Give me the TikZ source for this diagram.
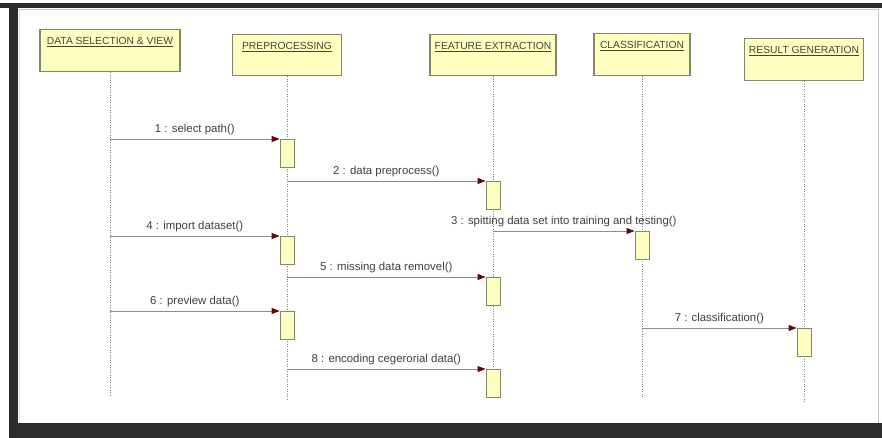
\documentclass[tikz,border=0pt]{standalone}
\usepackage{fontspec}
\setmainfont{Liberation Sans}
\usetikzlibrary{arrows.meta,positioning}
\definecolor{boxfill}{HTML}{FFFFC2}
\definecolor{boxline}{HTML}{85856A}
\definecolor{headtext}{HTML}{45452E}
\definecolor{msgline}{HTML}{8C8C8C}
\definecolor{tipred}{HTML}{5E0A0A}
\definecolor{framedark}{HTML}{2C2C2C}

\begin{document}
\begin{tikzpicture}[x=1pt,y=-1pt,
    head/.style={draw=boxline, fill=boxfill, line width=1.2pt, anchor=north, inner sep=0pt},
    headtxt/.style={text=headtext, font=\fontsize{10.3}{11}\selectfont, inner sep=0pt},
    act/.style={draw=boxline, fill=boxfill, line width=0.8pt, anchor=north, minimum width=14pt, minimum height=28pt, inner sep=0pt},
    life/.style={draw=gray, line width=0.8pt, dash pattern=on 1pt off 1.5pt},
    msg/.style={draw=msgline, line width=0.9pt, -{Triangle[length=8pt,width=6pt,color=tipred]}},
    msgtxt/.style={text=black!75, font=\fontsize{11.4}{13}\selectfont, inner sep=1pt, above=2.5pt}]
    % frame
    \fill[white] (0,0) rectangle (882,438);
    \fill[framedark] (0,3) rectangle (882,8);
    \fill[framedark] (9,3) rectangle (18,438);
    \fill[framedark] (9,423) rectangle (882,438);
    \draw[gray!45] (18,9.5) -- (878,9.5) -- (878,423);
    \draw[gray!30] (19.5,9.5) -- (19.5,423);

    % objects
    \node[head, minimum width=140pt, minimum height=42pt] (dsv) at (110,29) {};
    \node[headtxt, below=8.5pt of dsv.north] {\underline{DATA SELECTION \& VIEW}};
    \node[head, minimum width=109pt, minimum height=41pt] (pre) at (287,34) {};
    \node[headtxt, below=8.5pt of pre.north] {\underline{PREPROCESSING}};
    \node[head, minimum width=126pt, minimum height=41pt] (fex) at (493,34) {};
    \node[headtxt, below=8.5pt of fex.north] {\underline{FEATURE EXTRACTION}};
    \node[head, minimum width=96pt, minimum height=42pt] (cls) at (642,33) {};
    \node[headtxt, below=8.5pt of cls.north] {\underline{CLASSIFICATION}};
    \node[head, minimum width=119pt, minimum height=42pt] (res) at (804,38) {};
    \node[headtxt, below=8.5pt of res.north] {\underline{RESULT GENERATION}};

    % lifelines
    \coordinate (dsvend) at (110,395);
    \coordinate (preend) at (287,400);
    \coordinate (fexend) at (493,398);
    \coordinate (clsend) at (642,398);
    \coordinate (resend) at (804,403);
    \draw[life] (dsv.south) -- (dsvend);
    \draw[life] (pre.south) -- (preend);
    \draw[life] (fex.south) -- (fexend);
    \draw[life] (cls.south) -- (clsend);
    \draw[life] (res.south) -- (resend);

    % activations
    \node[act] (a1) at (287,139) {};
    \node[act] (a2) at (493,181) {};
    \node[act] (a3) at (642,231) {};
    \node[act] (a4) at (287,236) {};
    \node[act] (a5) at (493,277) {};
    \node[act] (a6) at (287,311) {};
    \node[act] (a7) at (804,328) {};
    \node[act] (a8) at (493,369) {};

    % messages
    \coordinate (s1) at (110,139);
    \coordinate (s2) at (287,181);
    \coordinate (s3) at (493,231);
    \coordinate (s4) at (110,236);
    \coordinate (s5) at (287,277);
    \coordinate (s6) at (110,311);
    \coordinate (s7) at (642,328);
    \coordinate (s8) at (287,369);
    \draw[msg] (s1) -- node[msgtxt] {1 : select path()} (a1.north west);
    \draw[msg] (s2) -- node[msgtxt] {2 : data preprocess()} (a2.north west);
    \draw[msg] (s3) -- node[msgtxt] {3 : spitting data set into training and testing()} (a3.north west);
    \draw[msg] (s4) -- node[msgtxt] {4 : import dataset()} (a4.north west);
    \draw[msg] (s5) -- node[msgtxt] {5 : missing data removel()} (a5.north west);
    \draw[msg] (s6) -- node[msgtxt] {6 : preview data()} (a6.north west);
    \draw[msg] (s7) -- node[msgtxt] {7 : classification()} (a7.north west);
    \draw[msg] (s8) -- node[msgtxt] {8 : encoding cegerorial data()} (a8.north west);
\end{tikzpicture}
\end{document}
